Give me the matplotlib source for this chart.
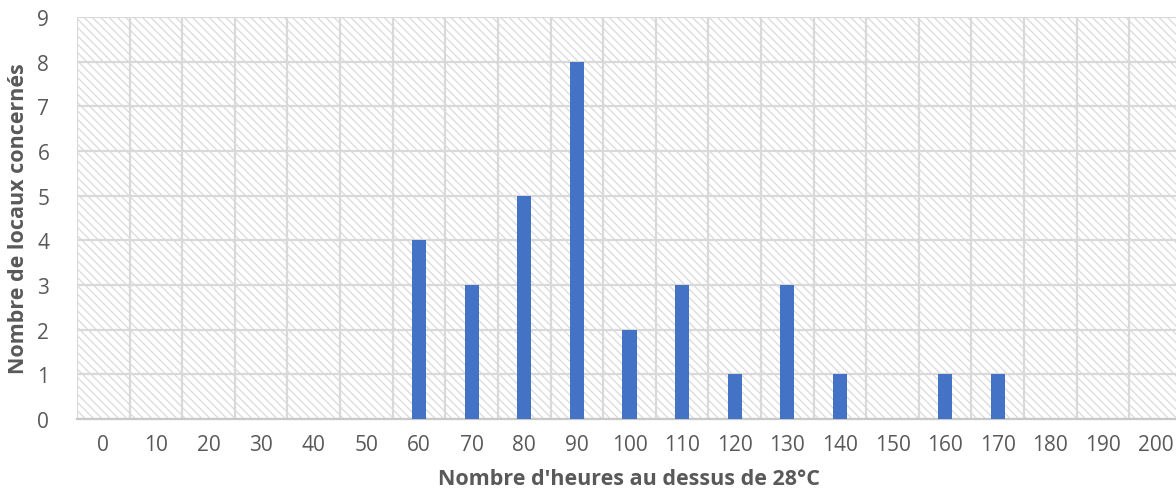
import matplotlib.pyplot as plt
from matplotlib.patches import Rectangle
import numpy as np

# chart data
categories = [str(v) for v in range(0, 201, 10)]
counts = [0, 0, 0, 0, 0, 0, 4, 3, 5, 8, 2, 3, 1, 3, 1, 0, 1, 1, 0, 0, 0]

plt.rcParams['font.family'] = ['Open Sans', 'DejaVu Sans']
plt.rcParams['hatch.color'] = '#dadada'
plt.rcParams['hatch.linewidth'] = 0.9

fig = plt.figure(figsize=(11.76, 5.02), dpi=100)
ax = fig.add_axes([0.0655, 0.163, 0.9395, 0.801])

x = np.arange(len(categories))
ax.set_xlim(-0.5, len(categories) - 0.5)
ax.set_ylim(0, 9)

# hatched plot background
bg = Rectangle((0, 0), 1, 1, transform=ax.transAxes, facecolor='white',
               hatch='\\' * 4, edgecolor='#dadada', linewidth=0, zorder=0.2)
ax.add_patch(bg)

ax.bar(x, counts, width=0.27, color='#4472C4', zorder=3)

# grid at category boundaries and integer counts
ax.set_xticks(x)
ax.set_xticklabels(categories)
ax.set_xticks(np.arange(-0.5, len(categories), 1), minor=True)
ax.set_yticks(range(0, 10))
ax.grid(which='minor', axis='x', color='#d9d9d9', linewidth=1.6, zorder=1)
ax.grid(which='major', axis='y', color='#d9d9d9', linewidth=1.6, zorder=1)
ax.set_axisbelow(True)

ax.tick_params(which='both', length=0)
ax.tick_params(axis='x', pad=11, labelsize=15, labelcolor='#595959')
ax.tick_params(axis='y', pad=20, labelsize=15, labelcolor='#595959')

for side in ['top', 'right', 'left']:
    ax.spines[side].set_visible(False)
ax.spines['bottom'].set_color('#c8c8c8')
ax.spines['bottom'].set_linewidth(1.6)

ax.set_xlabel("Nombre d'heures au dessus de 28°C", fontsize=15.5,
              fontweight='bold', color='#595959', labelpad=9)
ax.set_ylabel('Nombre de locaux concernés', fontsize=15.5,
              fontweight='bold', color='#595959', labelpad=6)

fig.savefig('out.png', dpi=100)
